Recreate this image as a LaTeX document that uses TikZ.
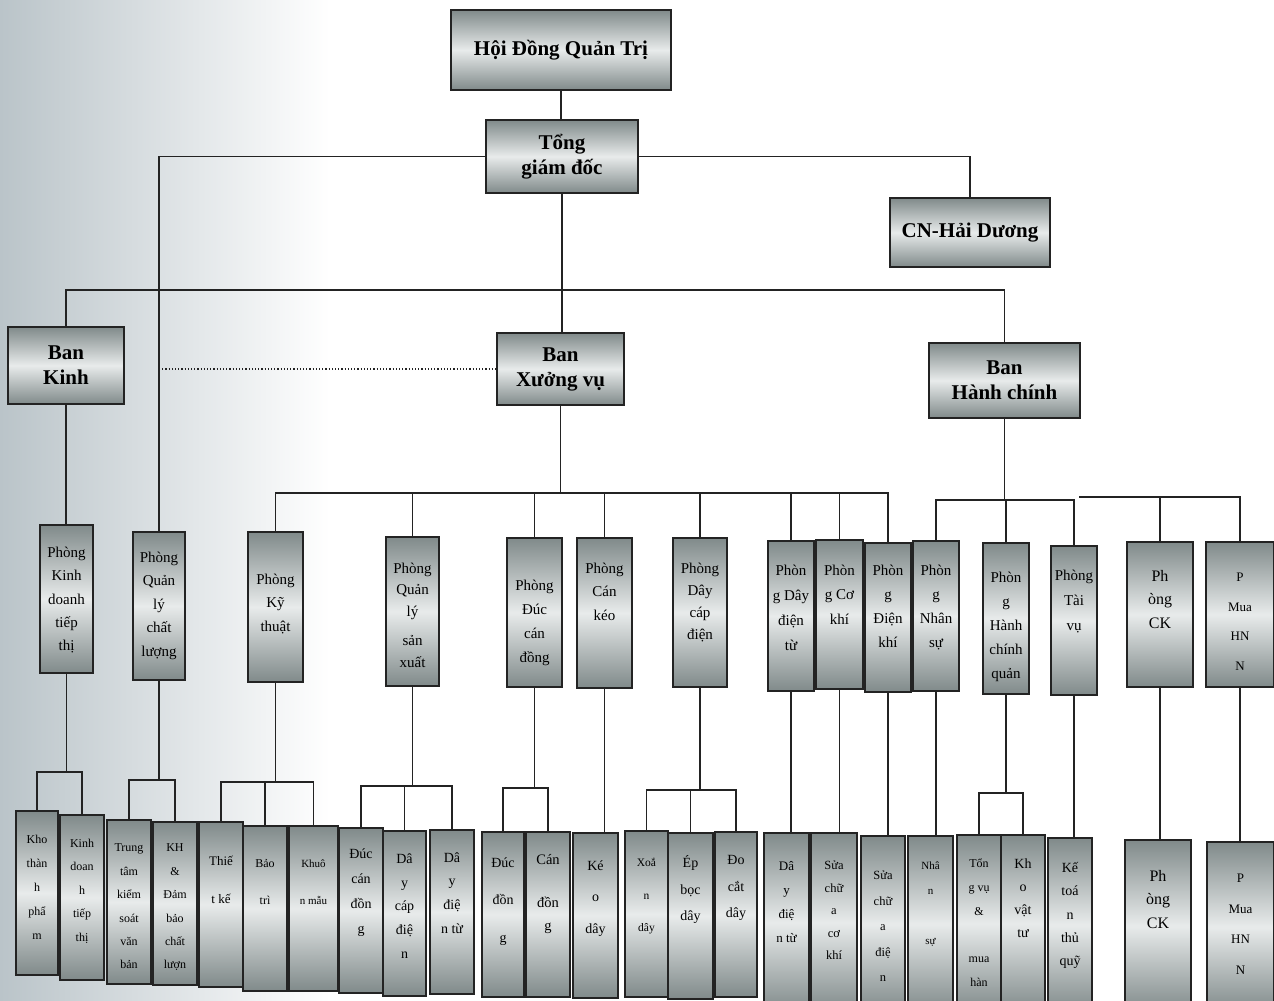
\documentclass[tikz,border=0pt]{standalone}
\usepackage{fontspec}
\setmainfont{Liberation Serif}
\definecolor{boxD}{RGB}{128,138,138}
\definecolor{boxL}{RGB}{232,235,235}
\definecolor{lineC}{RGB}{35,35,35}
\definecolor{bgL}{RGB}{186,196,201}
\tikzset{
  obox/.style={draw=lineC, line width=1.4pt, inner sep=0pt, outer sep=0pt,
    top color=boxD, bottom color=boxD, middle color=boxL},
  tbox/.style={obox, line width=1.8pt, align=center,
    font=\fontsize{21}{25}\selectfont\bfseries},
  conn/.style={draw=lineC, line width=1.5pt},
}
% name, x1, y1, x2, y2, font size, line skip, top offset, text
\newcommand\pbox[9]{%
  \node[obox] (#1) at ({(#2+#4)/2},{(#3+#5)/2})
  {\parbox[c][\dimexpr#5pt-#3pt\relax][t]{\dimexpr#4pt-#2pt\relax}{\centering\fontsize{#6}{#7}\selectfont\vspace*{#8pt}#9\par}};}
% parent, bracket y, left child, right child
\newcommand\brk[4]{%
  \coordinate (#1br) at (0,#2);
  \draw[conn] (#1.south) -- (#1.south |- #1br);
  \draw[conn] (#3.north) -- (#3.north |- #1br) -- (#4.north |- #1br) -- (#4.north);}
\begin{document}
\begin{tikzpicture}[x=1pt,y=-1pt]
\useasboundingbox (0,0) rectangle (1274,1001);
\fill[left color=bgL, right color=white] (0,0) rectangle (330,1001);
\clip (0,0) rectangle (1274,1001);

% top levels
\node[tbox, minimum width=220, minimum height=80] (hdqt) at (561,50) {Hội Đồng Quản Trị};
\node[tbox, minimum width=152, minimum height=73] (tgd) at (562,156.5) {Tổng\\giám đốc};
\node[tbox, minimum width=160, minimum height=69] (cn) at (970,232.5) {CN-Hải Dương};
\node[tbox, minimum width=116, minimum height=77] (bk) at (66,365.5) {Ban\\Kinh};
\node[tbox, minimum width=127, minimum height=72] (bxv) at (560.5,369) {Ban\\Xưởng vụ};
\node[tbox, minimum width=151, minimum height=75] (bhc) at (1004.5,380.5) {Ban\\Hành chính};

% level 3
\pbox{pKD}{40}{525}{93}{673}{15}{23.3}{22}{Phòng\\Kinh\\doanh\\tiếp\\thị}
\pbox{pQLCL}{133}{532}{185}{680}{15}{23.5}{20}{Phòng\\Quản\\lý\\chất\\lượng}
\pbox{pKT}{248}{532}{303}{682}{15}{23.5}{42}{Phòng\\Kỹ\\thuật}
\pbox{pQLSX}{386}{537}{439}{686}{15}{21.5}{26}{Phòng\\Quản\\lý\\[8pt]sản\\xuất}
\pbox{pDCD}{507}{538}{562}{687}{15}{24}{42}{Phòng\\Đúc\\cán\\đồng}
\pbox{pCK}{577}{538}{632}{688}{15}{23.5}{25}{Phòng\\Cán\\kéo}
\pbox{pDCDien}{673}{538}{727}{687}{15}{22}{25}{Phòng\\Dây\\cáp\\điện}
\pbox{pDDT}{768}{541}{814}{691}{15}{25}{24}{Phòn\\g Dây\\điện\\từ}
\pbox{pCoKhi}{816}{540}{863}{689}{15}{24.5}{25}{Phòn\\g Cơ\\khí}
\pbox{pDK}{865}{543}{911}{692}{15}{24}{22}{Phòn\\g\\Điện\\khí}
\pbox{pNS}{913}{541}{959}{691}{15}{24}{24}{Phòn\\g\\Nhân\\sự}
\pbox{pHCQ}{983}{543}{1029}{694}{15}{24}{29}{Phòn\\g\\Hành\\chính\\quản}
\pbox{pTV}{1051}{546}{1097}{695}{15}{25}{24}{Phòng\\Tài\\vụ}
\pbox{pCKP}{1127}{542}{1193}{687}{16}{23.5}{28}{Ph\\òng\\CK}
\pbox{pMua}{1206}{542}{1274}{687}{13}{29.5}{31}{P\\Mua\\HN\\N}

% bottom row
\pbox{b1}{16}{811}{58}{975}{12}{24}{24}{Kho\\thàn\\h\\phẩ\\m}
\pbox{b2}{60}{815}{104}{980}{12}{23.5}{24}{Kinh\\doan\\h\\tiếp\\thị}
\pbox{b3}{107}{820}{151}{984}{12}{23.4}{24}{Trung\\tâm\\kiểm\\soát\\văn\\bản}
\pbox{b4}{153}{822}{197}{985}{12}{23.4}{22}{KH\\\&\\Đảm\\bảo\\chất\\lượn}
\pbox{b5}{199}{822}{243}{987}{13}{38}{34}{Thiế\\t kế}
\pbox{b6}{243}{826}{287}{991}{12}{37}{33}{Bảo\\trì}
\pbox{b7}{289}{826}{338}{991}{11}{37}{33.5}{Khuô\\n mẫu}
\pbox{b8}{339}{828}{383}{993}{14}{25}{20.5}{Đúc\\cán\\đồn\\g}
\pbox{b9}{383}{831}{426}{996}{14}{23.8}{22.5}{Dâ\\y\\cáp\\điệ\\n}
\pbox{b10}{430}{830}{474}{994}{14}{23.7}{22.5}{Dâ\\y\\điệ\\n từ}
\pbox{b11}{482}{832}{524}{997}{14}{37.5}{25.5}{Đúc\\đồn\\g}
\pbox{b12}{526}{832}{570}{997}{14.5}{23}{22.4}{Cán\\[20pt]đồn\\g}
\pbox{b13}{573}{833}{618}{998}{14}{31.5}{27.5}{Ké\\o\\dây}
\pbox{b14}{625}{831}{668}{997}{11.5}{32.5}{27.5}{Xoắ\\n\\dây}
\pbox{b15}{668}{833}{713}{999}{14}{26.5}{22.5}{Ép\\bọc\\dây}
\pbox{b16}{715}{832}{757}{997}{14}{26.5}{23.5}{Đo\\cắt\\dây}
\pbox{b17}{764}{833}{809}{1012}{13}{24}{28}{Dâ\\y\\điệ\\n từ}
\pbox{b18}{811}{833}{857}{1012}{12.5}{22.5}{28}{Sửa\\chữ\\a\\cơ\\khí}
\pbox{b19}{861}{836}{905}{1012}{12.5}{25.5}{35}{Sửa\\chữ\\a\\điệ\\n}
\pbox{b20}{908}{836}{953}{1012}{11}{25}{25.5}{Nhâ\\n\\[25pt]sự}
\pbox{b21}{957}{835}{1001}{1012}{12}{23.8}{24}{Tổn\\g vụ\\\&\\[23.8pt]mua\\hàn}
\pbox{b22}{1001}{835}{1045}{1012}{14}{23}{23.5}{Kh\\o\\vật\\tư}
\pbox{b23}{1048}{838}{1092}{1012}{14}{23.3}{24.5}{Kế\\toá\\n\\thủ\\quỹ}
\pbox{b24}{1125}{840}{1191}{1012}{16}{23.5}{30}{Ph\\òng\\CK}
\pbox{b25}{1207}{842}{1274}{1012}{13}{30.5}{32}{P\\Mua\\HN\\N}

% upper connectors
\draw[conn] (hdqt.south) -- (hdqt.south |- tgd.north);
\draw[conn] (tgd.west) -| (pQLCL.north);
\draw[conn] (tgd.east) -| (cn.north);
\draw[conn] (tgd.south) -- (tgd.south |- bxv.north);
\coordinate (banBus) at (0,290);
\draw[conn] (bk.north) -- (bk.north |- banBus) -- (bhc.north |- banBus) -- (bhc.north);
\draw[lineC, line width=1.2pt, dotted] (pQLCL.north |- bxv.west) -- (bxv.west);
\draw[conn] (bk.south) -- (bk.south |- pKD.north);

% Xưởng vụ bus
\coordinate (xvBus) at (0,493);
\draw[conn] (bxv.south) -- (bxv.south |- xvBus);
\draw[conn] (pKT.north) -- (pKT.north |- xvBus) -- (pDK.north |- xvBus) -- (pDK.north);
\foreach \n in {pQLSX,pDCD,pCK,pDCDien,pDDT,pCoKhi}
  \draw[conn] (\n.north) -- (\n.north |- xvBus);

% Hành chính bus
\coordinate (hcBus) at (0,500);
\draw[conn] (bhc.south) -- (bhc.south |- hcBus);
\draw[conn] (pNS.north) -- (pNS.north |- hcBus) -- (pTV.north |- hcBus) -- (pTV.north);
\draw[conn] (pHCQ.north) -- (pHCQ.north |- hcBus);

% right bus
\coordinate (rBus) at (1079,497);
\draw[conn] (rBus) -- (pMua.north |- rBus) -- (pMua.north);
\draw[conn] (pCKP.north) -- (pCKP.north |- rBus);

% level 3 to bottom row
\brk{pKD}{772}{b1}{b2}
\brk{pQLCL}{780}{b3}{b4}
\brk{pKT}{782}{b5}{b7}
\draw[conn] (b6.north) -- (b6.north |- pKTbr);
\brk{pQLSX}{786}{b8}{b10}
\draw[conn] (b9.north) -- (b9.north |- pQLSXbr);
\brk{pDCD}{788}{b11}{b12}
\brk{pDCDien}{790}{b14}{b16}
\draw[conn] (b15.north) -- (b15.north |- pDCDienbr);
\brk{pHCQ}{793}{b21}{b22}
\draw[conn] (pCK.south) -- (pCK.south |- b13.north);
\draw[conn] (pDDT.south) -- (pDDT.south |- b17.north);
\draw[conn] (pCoKhi.south) -- (pCoKhi.south |- b18.north);
\draw[conn] (pDK.south) -- (pDK.south |- b19.north);
\draw[conn] (pNS.south) -- (pNS.south |- b20.north);
\draw[conn] (pTV.south) -- (pTV.south |- b23.north);
\draw[conn] (pCKP.south) -- (pCKP.south |- b24.north);
\draw[conn] (pMua.south) -- (pMua.south |- b25.north);
\end{tikzpicture}
\end{document}
